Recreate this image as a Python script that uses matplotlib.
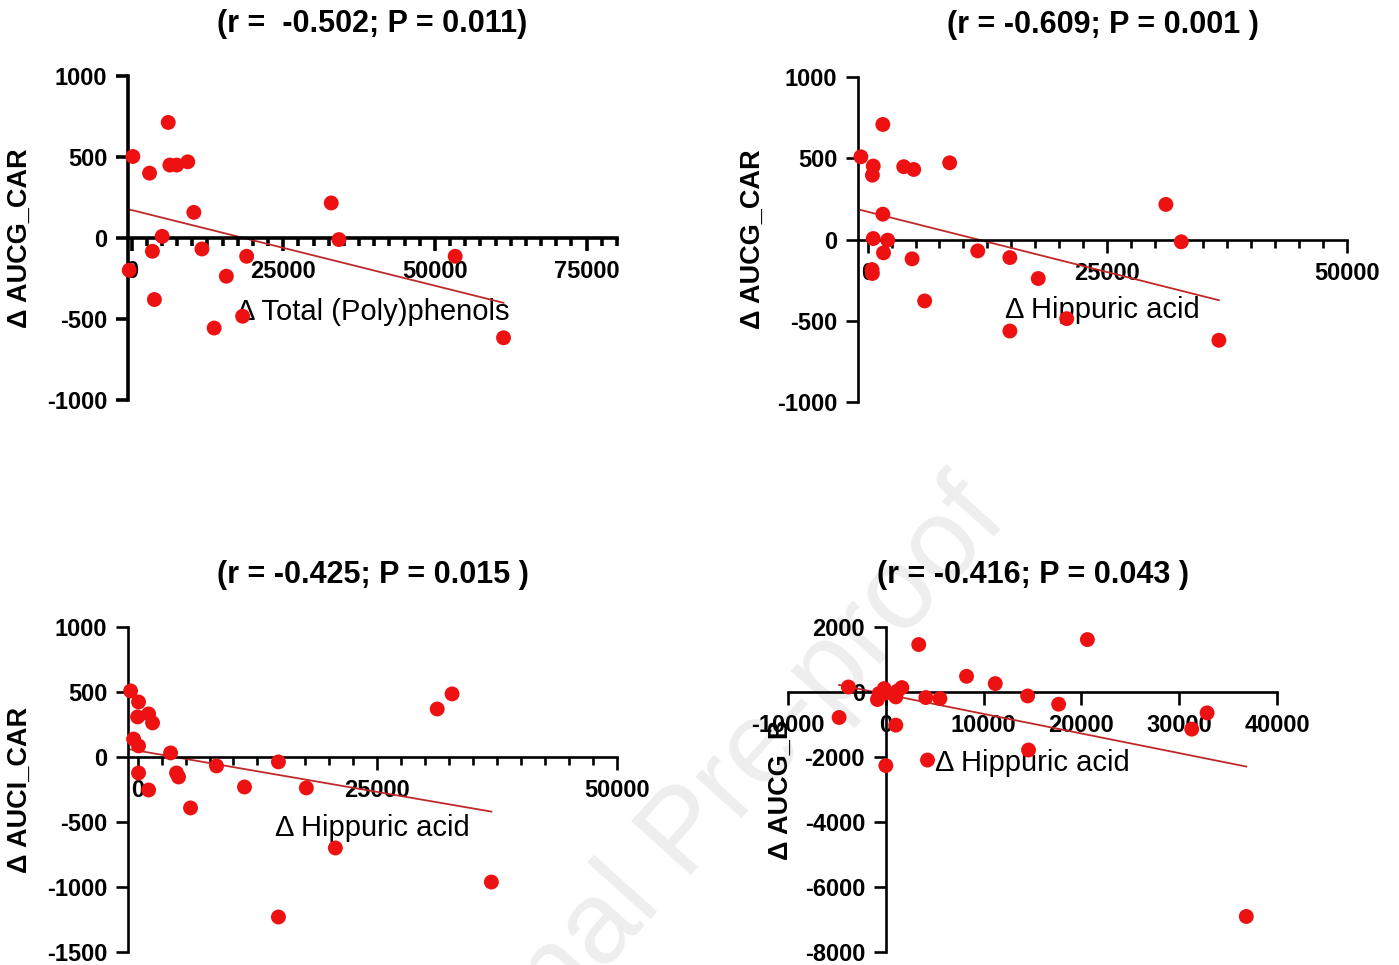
"""Correlation scatter panels: change in AUC vs change in (poly)phenol metabolites."""

import matplotlib.pyplot as plt
import numpy as np
from matplotlib.ticker import MultipleLocator

plt.rcParams["font.family"] = ["Liberation Sans", "DejaVu Sans"]
plt.rcParams["axes.unicode_minus"] = False

# Panel A: total (poly)phenols vs AUCG_CAR
tp_x = [200, -400, 2950, 3420, 3750, 5030, 6030, 6300, 7440, 9250, 10250,
        11590, 13600, 15610, 18960, 18290, 32900, 34170, 53330, 61300]
tp_aucg_car = [503, -199, 400, -82, -380, 10, 713, 450, 450, 470, 158,
               -68, -556, -236, -113, -483, 216, -10, -113, -616]

# Panel B: hippuric acid vs AUCG_CAR
hip_b_x = [-700, 590, 500, 1590, 1590, 590, 2100, 1660, 460, 500, 3770, 4810,
           4640, 5950, 8560, 11490, 14840, 14840, 17800, 20770, 31110, 32720, 36640]
hip_aucg_car = [509, 452, 396, 708, 156, 6, -4, -82, -185, -209, 448, 431,
                -119, -378, 472, -70, -111, -563, -240, -487, 216, -14, -620]

# Panel C: hippuric acid vs AUCI_CAR
hip_c_x = [-730, 100, 0, 1150, 1560, -420, 100, 3440, 100, 1150, 4060,
           4270, 5520, 8230, 11150, 14690, 14690, 17600, 20630, 31250, 32800, 36900]
hip_auci_car = [508, 423, 308, 331, 262, 138, 85, 31, -123, -254, -123,
                -154, -392, -69, -231, -38, -1231, -238, -700, 369, 485, -962]

# Panel D: hippuric acid vs AUCG_B
hip_d_x = [-4780, -3830, -860, -690, -170, 0, 1020, 1190, 1640, 1020, 0, 3360,
           4090, 5530, 4260, 8250, 11190, 14500, 14590, 17670, 20610, 31280, 32850, 36860]
hip_aucg_b = [-785, 153, -233, -49, 104, -31, -153, 31, 135, -1021, -2265, 1459,
              -172, -202, -2095, 482, 258, -123, -1786, -377, 1612, -1144, -644, -6908]

titles = ["(r =  -0.502; P = 0.011)", "(r = -0.609; P = 0.001 )",
          "(r = -0.425; P = 0.015 )", "(r = -0.416; P = 0.043 )"]
xlabels = ["Δ Total (Poly)phenols", "Δ Hippuric acid", "Δ Hippuric acid", "Δ Hippuric acid"]
ylabels = ["Δ AUCG_CAR", "Δ AUCG_CAR", "Δ AUCI_CAR", "Δ AUCG_B"]

DOT = "#ee1111"
LINE = "#c0282a"

fig = plt.figure(figsize=(13.99, 9.65), dpi=100)
fig.patch.set_facecolor("white")

# faint watermark behind the panels
fig.text(0.49, 0.135, "Journal Pre-proof", rotation=48, ha="center", va="center",
         fontsize=84, color="#eeeeee", zorder=-1)


def panel(rect, x, y, title, xlabel, ylabel, xlim, ylim, xmajor, xminor, ymajor,
          lw, yspine_zero=False, xlab_y=0.3, ylab_x=-0.19):
    ax = fig.add_axes(rect)
    ax.patch.set_alpha(0)
    ax.set_xlim(*xlim)
    ax.set_ylim(*ylim)
    for side in ("top", "right"):
        ax.spines[side].set_visible(False)
    ax.spines["bottom"].set_position(("data", 0))
    if yspine_zero:
        ax.spines["left"].set_position(("data", 0))
    for side in ("bottom", "left"):
        ax.spines[side].set_linewidth(lw)
        ax.spines[side].set_color("black")
    ax.xaxis.set_major_locator(MultipleLocator(xmajor))
    if xminor:
        ax.xaxis.set_minor_locator(MultipleLocator(xminor))
    ax.yaxis.set_major_locator(MultipleLocator(ymajor))
    ax.tick_params(axis="both", which="major", length=9, width=lw, labelsize=17, pad=6)
    ax.tick_params(axis="x", which="minor", length=5.5, width=lw)
    ax.tick_params(axis="x", which="major", pad=7)
    for lab in ax.get_xticklabels() + ax.get_yticklabels():
        lab.set_fontweight("bold")

    ax.scatter(x, y, s=115, color=DOT, edgecolors="none", zorder=3, clip_on=False)
    slope, icpt = np.polyfit(x, y, 1)
    xs = np.array([min(x), max(x)])
    ax.plot(xs, slope * xs + icpt, color=LINE, lw=1.3, zorder=2)

    ax.text(0.5, 1.16, title, transform=ax.transAxes, ha="center", va="center",
            fontsize=22, fontweight="bold")
    ax.set_xlabel(xlabel, fontsize=21)
    ax.xaxis.set_label_coords(0.5, xlab_y)
    ax.set_ylabel(ylabel, fontsize=19.5, fontweight="bold")
    ax.yaxis.set_label_coords(ylab_x, 0.5)
    return ax


panel([0.0915, 0.5855, 0.3495, 0.3358], tp_x, tp_aucg_car, titles[0], xlabels[0],
      ylabels[0], (-600, 80000), (-1000, 1000), 25000, 2500, 500, 2.6,
      xlab_y=0.315, ylab_x=-0.195)
panel([0.6133, 0.5834, 0.3495, 0.3368], hip_b_x, hip_aucg_car, titles[1], xlabels[1],
      ylabels[1], (-1000, 50000), (-1000, 1000), 25000, 2500, 500, 1.9,
      xlab_y=0.325, ylab_x=-0.188)
panel([0.0915, 0.0135, 0.3495, 0.3368], hip_c_x, hip_auci_car, titles[2], xlabels[2],
      ylabels[2], (-1000, 50000), (-1500, 1000), 25000, 2500, 500, 1.9,
      xlab_y=0.425, ylab_x=-0.195)
panel([0.5633, 0.0135, 0.3495, 0.3368], hip_d_x, hip_aucg_b, titles[3], xlabels[3],
      ylabels[3], (-10000, 40000), (-8000, 2000), 10000, None, 2000, 1.9,
      yspine_zero=True, xlab_y=0.625, ylab_x=0.012)

fig.savefig("out.png", dpi=100, facecolor="white")
